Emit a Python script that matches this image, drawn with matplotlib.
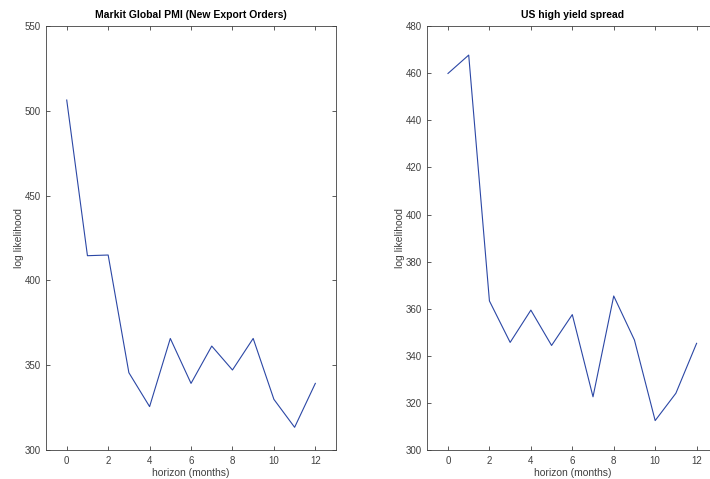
import numpy as np
import matplotlib.pyplot as plt

plt.rcParams['font.family'] = ['Liberation Sans', 'DejaVu Sans']

horizon = np.arange(13)
pmi_ll = [506.4, 414.6, 415.0, 345.6, 325.6, 365.8, 339.3, 361.3, 347.2, 365.8, 329.9, 313.4, 339.3]
hy_ll = [459.9, 467.7, 363.3, 345.7, 359.4, 344.4, 357.5, 322.6, 365.4, 346.7, 312.5, 324.1, 345.3]

titles = ['Markit Global PMI (New Export Orders)', 'US high yield spread']
ylims = [(300, 550), (300, 480)]
yticks = [np.arange(300, 551, 50), np.arange(300, 481, 20)]

gray = '#404040'
line_col = '#2b47a5'

fig = plt.figure(figsize=(7.1, 4.79), dpi=100)
w, h = 0.4085, 0.885
ax1 = fig.add_axes([0.0648, 0.0605, w, h])
ax2 = fig.add_axes([0.6018, 0.0605, w, h])

for ax, y, t, yl, yt in zip([ax1, ax2], [pmi_ll, hy_ll], titles, ylims, yticks):
    ax.plot(horizon, y, color=line_col, lw=0.8)
    ax.set_xlim(-1, 13)
    ax.set_ylim(*yl)
    ax.set_xticks(np.arange(0, 13, 2))
    ax.set_yticks(yt)
    ax.tick_params(direction='in', top=True, right=True, length=3, width=0.6,
                   labelsize=7, colors=gray, pad=4)
    for s in ax.spines.values():
        s.set_color(gray)
        s.set_linewidth(0.6)
    ax.set_title(t, fontsize=7.5, fontweight='bold', color='black', pad=6)
    ax.set_xlabel('horizon (months)', fontsize=7.5, color=gray, labelpad=2)
    ax.set_ylabel('log likelihood', fontsize=7.5, color=gray, labelpad=0)

fig.savefig('out.png', dpi=100)
